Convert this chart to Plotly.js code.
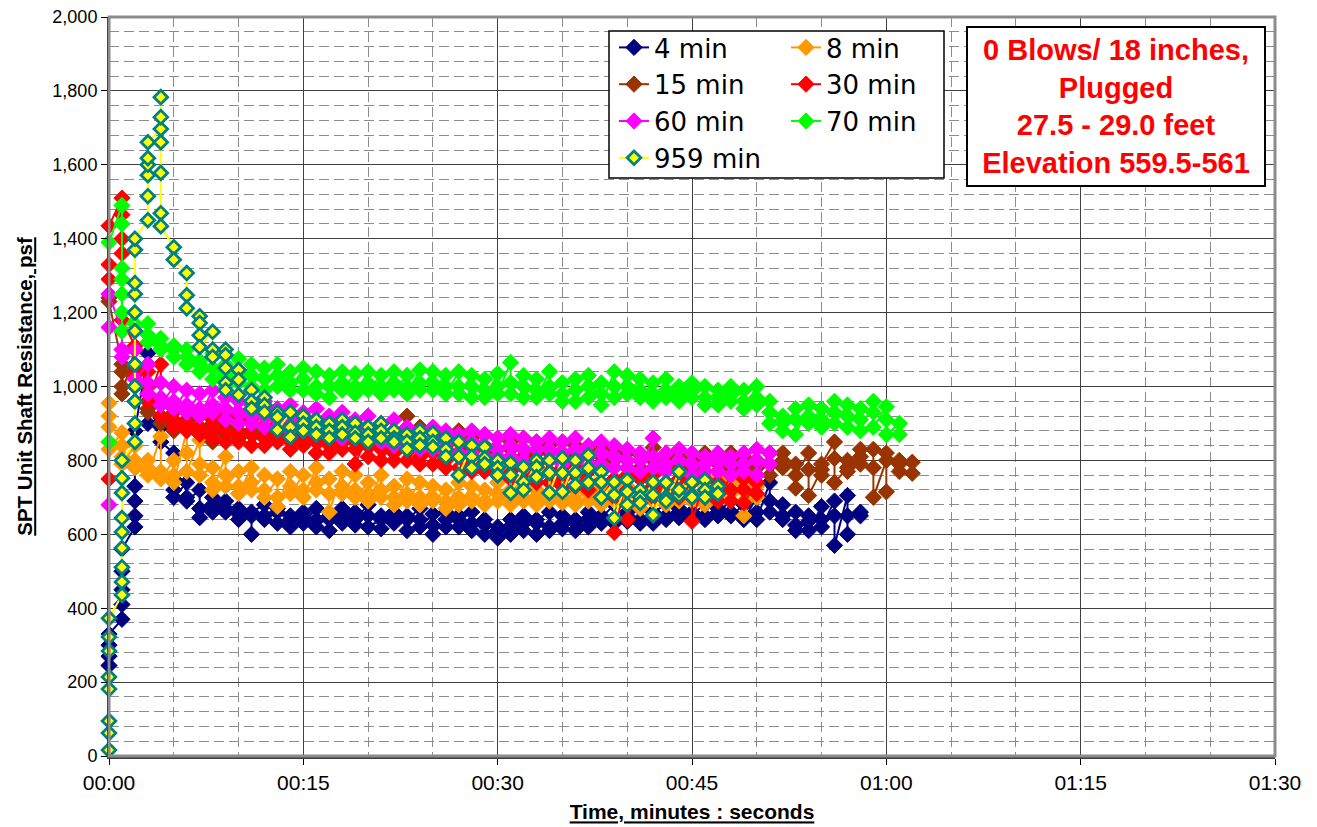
<!DOCTYPE html>
<html><head><meta charset="utf-8">
<script src="https://cdn.plot.ly/plotly-3.0.1.min.js"></script>
<style>
html,body{margin:0;padding:0;background:#fff}
#chart{width:1317px;height:827px}
</style>
</head><body><div id="chart"></div>
<script>
// Readings grouped by elapsed second (index = second); values in psf
const min4 = [
[245,270,300,330],[370,410,450,500,560],[620,650,690,730,780,880],[1090,1060,980,900],[915,890,850],
[820,750,720,700],[740,700,690],[720,670,645],[700,680,660],[690,660,670],
[670,640,655],[650,600,660],[680,640,650],[660,630,670],[650,620,640],
[660,645,630],[670,640,620],[650,610,640],[670,650,630],[660,625,640],
[680,650,620],[640,615,650],[660,630,645],[650,610,640],[670,640,620],
[655,625,600],[640,660,620],[650,620,640],[660,630,610],[640,600,625],
[620,590,610],[640,600,620],[650,610,630],[630,600,640],[660,620,610],
[650,630,615],[640,610,630],[660,640,620],[650,630,645],[680,640,630],
[660,635,650],[670,640,630],[650,630,660],[680,650,640],[670,645,660],
[660,640,655],[680,650,640],[670,650,660],[690,660,650],[680,650,640],
[700,660,640],[740,690,660],[650,680,640],[660,625,610],[635,650,610],
[675,640,620],[690,650,570],[705,600,650],[660,650]
];
const min8 = [
[955,920,890,850,830],[875,840,810,790],[840,800,780],[800,780,770,760],[865,770,750],
[800,760,740],[880,820,770],[855,790,760],[780,740,720],[810,760,730],
[770,730,710],[780,740,720],[760,720,700],[750,700,675],[770,730,710],
[760,720,700],[780,740,720],[750,710,660],[770,730,710],[760,720,700],
[740,710,690],[760,720,700],[730,700,680],[750,710,690],[740,700,680],
[730,700,690],[720,690,670],[740,700,680],[730,700,690],[720,690,680],
[740,710,690],[720,700,680],[730,700,690],[720,700,680],[740,710,690],
[730,700,685],[720,695,680],[740,710,690],[730,700,680],[720,700,690],
[730,700,680],[720,690,670],[740,710,690],[720,700,680],[730,700,690],
[740,710,690],[730,700,680],[750,720,700],[740,710,690],[730,690,650],
[760,730,700]
];
const min15 = [
[1240,1230],[1060,1040,1000,980],[1100,1050,1000,960],[960,940,930],[950,920,900],
[930,900,880],[940,910,890],[920,890,870],[930,900,850],[920,890,870],
[910,880,860],[900,880,870],[920,890,870],[910,880,860],[900,870,860],
[910,880,860],[900,870,850],[890,870,850],[910,880,860],[900,870,850],
[890,860,840],[900,870,850],[880,860,840],[920,880,850],[890,860,840],
[880,850,830],[870,850,830],[880,850,830],[860,840,820],[870,840,820],
[860,830,810],[850,830,810],[860,830,810],[850,820,800],[840,820,800],
[850,820,800],[840,810,790],[830,810,790],[840,810,790],[830,800,780],
[820,800,780],[815,800,780],[835,800,780],[820,800,780],[810,790,770],
[800,780,760],[820,790,770],[810,790,770],[820,800,780],[810,790,770],
[800,780,760],[820,790,760],[820,800,780],[790,725,760],[820,775,705],
[775,760,790],[850,805,740],[780,800,770],[810,790,830],[830,780,700],
[800,715,820],[790,770,800],[795,765]
];
const min30 = [
[750,1290,1330,1435],[1510,1465,1400,1360,1180],[1110,1060,1030],[1040,1000,960],[1060,950,920],
[940,910,890],[930,900,880],[920,890,870],[910,880,860],[920,880,850],
[900,870,850],[910,870,840],[890,860,840],[900,870,850],[880,850,830],
[890,860,840],[880,850,820],[870,840,820],[880,850,830],[860,830,790],
[870,840,810],[860,830,800],[850,820,800],[860,830,800],[840,810,790],
[850,820,790],[830,800,780],[840,810,780],[820,790,770],[830,800,770],
[810,780,760],[800,770,750],[810,780,750],[790,760,740],[800,770,740],
[780,750,730],[790,760,730],[770,740,720],[780,740,700],[750,700,605],
[760,720,640],[750,720,700],[760,730,700],[740,710,690],[750,720,700],
[740,700,635],[750,720,700],[740,710,690],[760,720,690],[750,720,685],
[740,710]
];
const min60 = [
[680,1160,1250],[1150,1100,1080],[1100,1060,1020],[1060,1010,980],[1010,970,950],
[1000,960,940],[990,950,930],[980,940,920],[990,950,930],[970,940,910],
[960,930,900],[950,920,900],[960,920,890],[940,910,890],[950,910,880],
[930,900,880],[940,900,870],[920,890,870],[930,890,860],[910,880,860],
[920,880,850],[900,870,850],[910,870,840],[890,860,840],[880,850,830],
[890,860,830],[880,850,820],[870,850,820],[880,850,820],[870,840,810],
[860,830,810],[870,840,810],[860,830,800],[850,830,800],[860,830,800],
[850,820,790],[860,830,800],[840,810,790],[850,820,790],[840,810,780],
[830,800,780],[820,800,770],[860,810,780],[820,790,770],[830,800,770],
[820,790,760],[810,790,770],[820,800,770],[810,790,760],[820,790,770],
[830,800,760],[820,790]
];
const min70 = [
[850,1390],[1490,1440,1320,1290,1250,1200,1150],[1200,1170,1150],[1170,1140,1120],[1130,1100,1110],
[1110,1080,1100],[1100,1060,1080],[1070,1040,1060],[1090,1050,1020],[1060,1030,1000],
[1075,1040,1010],[1060,1030,1000],[1050,1020,990],[1060,1030,1000],[1040,1010,990],
[1050,1020,990],[1040,1000,980],[1030,1000,970],[1040,1010,990],[1035,1000,980],
[1040,1010,990],[1030,1000,980],[1040,1010,990],[1030,1000,980],[1045,1010,990],
[1040,1010,990],[1030,1000,980],[1040,1000,980],[1030,1000,970],[1020,990,970],
[1035,1000,980],[1065,1010,980],[1030,1000,970],[1020,990,970],[1040,1000,980],
[1010,980,960],[1020,990,960],[1030,1000,970],[1010,980,950],[1040,1000,970],
[1030,1000,980],[1020,990,970],[1010,980,960],[1020,990,970],[1000,980,960],
[1010,990,970],[1000,970,950],[990,970,950],[1000,980,960],[990,960,940],
[1000,970,950],[960,930,900],[920,900,880],[940,910,870],[950,920,900],
[940,910,890],[960,930,900],[950,920,890],[940,910,880],[960,930,890],
[945,910,870],[900,870]
];
const min959 = [
[16,62,95,181,214,284,322,373],[436,471,511,563,606,644,712,752,800],
[850,900,960,1000,1060,1150,1200,1250,1280,1370,1400],[1450,1515,1572,1600,1618,1661],
[1697,1729,1783,1661,1578,1469,1434],[1377,1343],[1307,1247,1212],[1190,1172,1139,1107],
[1148,1100,1080],[1100,1085,1050,1010,990],[1045,1018,977],[990,960,940],
[970,950,930],[930,917,882],[930,890,863],[920,900,880],[910,890,870],
[900,880,860],[910,890,870],[900,875,860],[890,870,850],[900,880,860],
[880,860,850],[870,850,830],[880,860,840],[874,850,836],[860,830,810],
[850,810,760],[840,810,780],[836,806,790],[800,780,760],[793,760,712],
[782,741,720],[800,782,755],[800,766,712],[806,766,715],[800,766,733],
[814,779,740],[769,741,700],[741,706,644],[747,715,680],[720,700,685],
[741,706,652],[740,700,690],[769,706,720],[741,706,700],[747,720,700],[730,710]
];

const seriesNames = ['4 min','8 min','15 min','30 min','60 min','70 min','959 min'];
const xTickVals = [0,15,30,45,60,75,90];
const xTickText = ['00:00','00:15','00:30','00:45','01:00','01:15','01:30'];
const noteLines = ['0 Blows/ 18 inches,','Plugged','27.5 - 29.0 feet','Elevation 559.5-561'];

function flatten(groups){
  const x=[], y=[];
  groups.forEach((vals, sec) => vals.forEach(v => { x.push(sec); y.push(v); }));
  return {x, y};
}

const data = [min4, min8, min15, min30, min60, min70, min959];
const colors = ['#000080','#FF9900','#993300','#FF0000','#FF00FF','#00FF00','#FFFF00'];
const legendOf = ['legend','legend2','legend','legend2','legend','legend2','legend'];

const traces = data.map((g, i) => {
  const f = flatten(g);
  const is959 = i === 6;
  return {
    x: f.x, y: f.y, name: seriesNames[i], type: 'scatter', mode: 'lines+markers',
    legend: legendOf[i], cliponaxis: false,
    line: {color: colors[i], width: 2},
    marker: {symbol: 'diamond', size: is959 ? 10.5 : 12.5,
             color: is959 ? '#FFFF00' : colors[i],
             line: {color: is959 ? '#008080' : colors[i], width: is959 ? 2.8 : 1}}
  };
});

const L = 109, R = 1275, T = 17, B = 756;
const W = R - L, H = B - T;
const px = v => (v - L) / W;
const py = v => (B - v) / H;

const fontFam = 'Liberation Sans, Arial, sans-serif';
const legFam = 'DejaVu Sans, Liberation Sans, Arial, sans-serif';
const layout = {
  width: 1317, height: 827,
  margin: {l: L, r: 1317 - R, t: T, b: 827 - B},
  paper_bgcolor: '#fff', plot_bgcolor: '#fff',
  font: {family: fontFam, color: '#000'},
  showlegend: true,
  xaxis: {
    range: [0, 90], tickvals: xTickVals, ticktext: xTickText,
    showgrid: true, gridcolor: '#404040', gridwidth: 1,
    minor: {dtick: 5, showgrid: true, gridcolor: '#8c8c8c', griddash: '10px,5px', gridwidth: 1},
    showline: true, linecolor: '#404040', linewidth: 3,
    ticks: 'outside', ticklen: 6, tickcolor: '#000', tickfont: {size: 21, family: fontFam},
    zeroline: false,
    title: {text: '<b><span style="text-decoration:underline">Time, minutes : seconds</span></b>', font: {size: 21, family: fontFam}, standoff: 12}
  },
  yaxis: {
    range: [0, 2000], dtick: 200, tickformat: ',d',
    showgrid: true, gridcolor: '#404040', gridwidth: 1,
    minor: {dtick: 40, showgrid: true, gridcolor: '#8c8c8c', griddash: '10px,5px', gridwidth: 1},
    showline: true, linecolor: '#000', linewidth: 2,
    ticks: 'outside', ticklen: 6, tickcolor: '#000', tickfont: {size: 18, family: fontFam},
    zeroline: false,
    title: {text: '<b><span style="text-decoration:underline">SPT Unit Shaft Resistance, psf</span></b>', font: {size: 20.5, family: fontFam}, standoff: 14}
  },
  legend: {x: px(614), y: py(24), xanchor: 'left', yanchor: 'top', bgcolor: 'rgba(0,0,0,0)',
           borderwidth: 0, font: {size: 26, family: legFam}, tracegroupgap: 0},
  legend2: {x: px(786), y: py(24), xanchor: 'left', yanchor: 'top', bgcolor: 'rgba(0,0,0,0)',
            borderwidth: 0, font: {size: 26, family: legFam}, tracegroupgap: 0},
  shapes: [
    {type: 'rect', xref: 'paper', yref: 'paper', x0: 0, x1: 1, y0: 0, y1: 1,
     line: {color: '#8c8c8c', width: 3}, layer: 'above'},
    {type: 'rect', xref: 'paper', yref: 'paper', x0: px(609), x1: px(944), y0: py(178), y1: py(31),
     line: {color: '#000', width: 1.5}, fillcolor: '#fff', layer: 'above'}
  ],
  annotations: [
    {xref: 'paper', yref: 'paper', x: px(1116), y: py(106.5), xanchor: 'center', yanchor: 'middle',
     text: '<b>' + noteLines.join('<br>') + '</b>', showarrow: false, align: 'center',
     font: {size: 29, color: '#FF0000', family: fontFam},
     bgcolor: '#fff', bordercolor: '#000', borderwidth: 2, width: 294, height: 155}
  ]
};

Plotly.newPlot('chart', traces, layout, {displayModeBar: false, staticPlot: true});
</script>
</body></html>
